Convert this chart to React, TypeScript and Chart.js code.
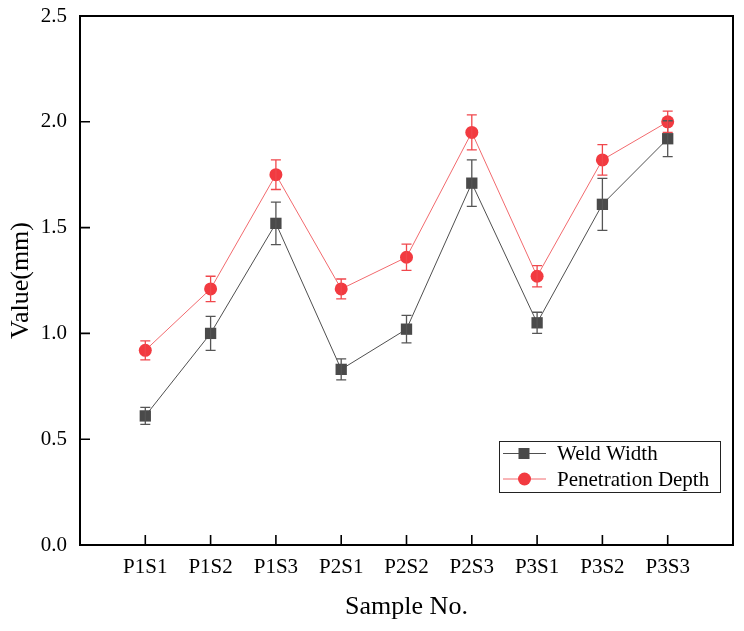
import React, { useEffect, useRef } from "react";
import { Chart, registerables } from "chart.js";

Chart.register(...registerables);

const categories = ["P1S1", "P1S2", "P1S3", "P2S1", "P2S2", "P2S3", "P3S1", "P3S2", "P3S3"];
const weldWidth = [0.61, 1.0, 1.52, 0.83, 1.02, 1.71, 1.05, 1.61, 1.92];
const weldWidthErr = [0.04, 0.08, 0.1, 0.05, 0.065, 0.11, 0.05, 0.123, 0.085];
const penetrationDepth = [0.92, 1.21, 1.75, 1.21, 1.36, 1.95, 1.27, 1.82, 2.0];
const penetrationDepthErr = [0.045, 0.06, 0.07, 0.047, 0.062, 0.083, 0.05, 0.072, 0.05];
const yTicks = [0, 0.5, 1.0, 1.5, 2.0, 2.5];

const FONT = "'Liberation Serif', 'Times New Roman', serif";

const WELD_COLOR = "#4a4a4a";
const WELD_LINE = "#4f4f4f";
const PEN_COLOR = "#f23a40";
const PEN_LINE = "#f26a6e";

const errorsByDataset = [weldWidthErr, penetrationDepthErr];
const errColors = ["#555555", "#f0474c"];

const errorBarPlugin = {
  id: "errorBars",
  afterDatasetsDraw(chart: any) {
    const ctx = chart.ctx;
    const xs = chart.scales.x;
    const ys = chart.scales.y;
    chart.data.datasets.forEach((ds: any, di: number) => {
      const errs = errorsByDataset[di];
      ctx.save();
      ctx.strokeStyle = errColors[di];
      ctx.lineWidth = 1.3;
      ds.data.forEach((pt: any, i: number) => {
        const x = xs.getPixelForValue(pt.x);
        const yTop = ys.getPixelForValue(pt.y + errs[i]);
        const yBot = ys.getPixelForValue(pt.y - errs[i]);
        ctx.beginPath();
        ctx.moveTo(x, yTop);
        ctx.lineTo(x, yBot);
        ctx.moveTo(x - 5, yTop);
        ctx.lineTo(x + 5, yTop);
        ctx.moveTo(x - 5, yBot);
        ctx.lineTo(x + 5, yBot);
        ctx.stroke();
      });
      ctx.restore();
    });
  },
};

const framePlugin = {
  id: "frame",
  afterDraw(chart: any) {
    const ctx = chart.ctx;
    const { left, right, top, bottom } = chart.chartArea;
    const xs = chart.scales.x;
    const ys = chart.scales.y;
    ctx.save();
    ctx.strokeStyle = "#000";
    ctx.lineWidth = 2;
    ctx.strokeRect(left, top, right - left, bottom - top);
    ctx.lineWidth = 1.6;
    ctx.beginPath();
    categories.forEach((_, i) => {
      const x = xs.getPixelForValue(i + 1);
      ctx.moveTo(x, bottom);
      ctx.lineTo(x, bottom - 10);
    });
    yTicks.forEach((v) => {
      const y = ys.getPixelForValue(v);
      ctx.moveTo(left, y);
      ctx.lineTo(left + 10, y);
    });
    ctx.stroke();

    // legend
    const bx = 499.5, by = 441.5, bw = 221, bh = 51;
    ctx.fillStyle = "#fff";
    ctx.fillRect(bx, by, bw, bh);
    ctx.strokeStyle = "#222";
    ctx.lineWidth = 1;
    ctx.strokeRect(bx, by, bw, bh);
    const rows = [
      { label: chart.data.datasets[0].label, line: WELD_LINE, color: WELD_COLOR, style: "rect", y: 453.5 },
      { label: chart.data.datasets[1].label, line: PEN_LINE, color: PEN_COLOR, style: "circle", y: 479 },
    ];
    rows.forEach((r) => {
      ctx.strokeStyle = r.line;
      ctx.lineWidth = 1;
      ctx.beginPath();
      ctx.moveTo(503, r.y);
      ctx.lineTo(546, r.y);
      ctx.stroke();
      ctx.fillStyle = r.color;
      if (r.style === "rect") {
        ctx.fillRect(524 - 5.5, r.y - 5.5, 11, 11);
      } else {
        ctx.beginPath();
        ctx.arc(524.5, r.y, 6.5, 0, Math.PI * 2);
        ctx.fill();
      }
      ctx.fillStyle = "#000";
      ctx.font = `21px ${FONT}`;
      ctx.textBaseline = "middle";
      ctx.textAlign = "left";
      ctx.fillText(r.label, 557, r.y + 1);
    });
    ctx.restore();
  },
};

export default function App() {
  const canvasRef = useRef<HTMLCanvasElement | null>(null);

  useEffect(() => {
    if (!canvasRef.current) return;
    const chart = new Chart(canvasRef.current, {
      type: "line",
      data: {
        datasets: [
          {
            label: "Weld Width",
            data: weldWidth.map((v, i) => ({ x: i + 1, y: v })),
            borderColor: WELD_LINE,
            backgroundColor: WELD_COLOR,
            borderWidth: 1,
            pointStyle: "rect",
            pointRadius: 8,
            pointBorderWidth: 0,
            pointBackgroundColor: WELD_COLOR,
            pointBorderColor: WELD_COLOR,
          },
          {
            label: "Penetration Depth",
            data: penetrationDepth.map((v, i) => ({ x: i + 1, y: v })),
            borderColor: PEN_LINE,
            backgroundColor: PEN_COLOR,
            borderWidth: 1,
            pointStyle: "circle",
            pointRadius: 6.5,
            pointBorderWidth: 0,
            pointBackgroundColor: PEN_COLOR,
            pointBorderColor: PEN_COLOR,
          },
        ],
      },
      options: {
        animation: false,
        responsive: false,
        maintainAspectRatio: false,
        layout: { padding: { top: 16, right: 11, left: 0, bottom: 0 } },
        plugins: {
          legend: { display: false },
          tooltip: { enabled: false },
        },
        scales: {
          x: {
            type: "linear",
            min: 0,
            max: 10,
            grid: { display: false, drawTicks: false },
            border: { display: false },
            afterBuildTicks: (scale: any) => {
              scale.ticks = categories.map((_, i) => ({ value: i + 1 }));
            },
            afterFit: (scale: any) => {
              scale.height = 86;
              scale.paddingLeft = 0;
              scale.paddingRight = 0;
            },
            ticks: {
              autoSkip: false,
              maxRotation: 0,
              padding: 10,
              color: "#000",
              font: { family: FONT, size: 21 },
              callback: (v: any) => categories[Number(v) - 1] ?? "",
            },
            title: {
              display: true,
              text: "Sample No.",
              color: "#000",
              font: { family: FONT, size: 26 },
              padding: { top: 0, bottom: 8 },
            },
          },
          y: {
            type: "linear",
            min: 0,
            max: 2.5,
            grid: { display: false, drawTicks: false },
            border: { display: false },
            afterBuildTicks: (scale: any) => {
              scale.ticks = yTicks.map((v) => ({ value: v }));
            },
            afterFit: (scale: any) => {
              scale.width = 80;
              scale.paddingTop = 0;
              scale.paddingBottom = 0;
            },
            ticks: {
              padding: 13,
              color: "#000",
              font: { family: FONT, size: 21 },
              callback: (v: any) => Number(v).toFixed(1),
            },
            title: {
              display: true,
              text: "Value(mm)",
              color: "#000",
              font: { family: FONT, size: 26 },
              padding: { top: 6, bottom: 0 },
            },
          },
        },
      },
      plugins: [errorBarPlugin, framePlugin],
    });
    return () => chart.destroy();
  }, []);

  return (
    <div style={{ position: "absolute", left: 0, top: 0, width: 744, height: 631, background: "#fff" }}>
      <canvas ref={canvasRef} width={744} height={631} style={{ width: 744, height: 631 }} />
    </div>
  );
}
